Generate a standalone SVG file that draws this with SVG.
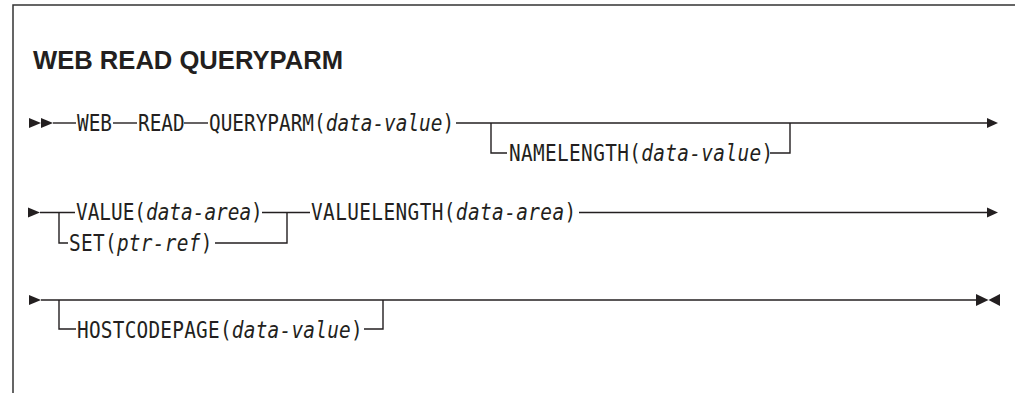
<svg xmlns="http://www.w3.org/2000/svg" width="1015" height="393" viewBox="0 0 1015 393">
  <style>
    .frame { fill: none; stroke: #333; stroke-width: 1.5; }
    .title { font-family: "Liberation Sans", Arial, sans-serif; font-weight: bold; font-size: 26px; fill: #231f20; }
    .kw { font-family: "DejaVu Sans Mono", "Liberation Mono", monospace; font-size: 19.4px; fill: #231f20; }
    .var { font-style: italic; }
    .wire { fill: none; stroke: #231f20; stroke-width: 1.4; }
    .head { fill: #231f20; }
  </style>

  <!-- page frame -->
  <path class="frame" d="M13,393 V5 H1015"/>

  <text class="title" x="33" y="69" textLength="310" lengthAdjust="spacingAndGlyphs">WEB READ QUERYPARM</text>

  <!-- rail connectors -->
  <g id="connectors">
    <!-- row 1 -->
    <polygon class="head" points="29,118 41,123 29,128"/>
    <polygon class="head" points="41,118 53,123 41,128"/>
    <path class="wire" d="M53,123 H76"/>
    <path class="wire" d="M113,123 H137"/>
    <path class="wire" d="M184,123 H208"/>
    <path class="wire" d="M456,123 H988"/>
    <path class="wire" d="M491,123 V153 H507"/>
    <path class="wire" d="M770,153 H790 V123"/>
    <polygon class="head" points="987,118 998,123 987,128"/>

    <!-- row 2 -->
    <polygon class="head" points="28,207.5 40,212.5 28,217.5"/>
    <path class="wire" d="M40,212.5 H75"/>
    <path class="wire" d="M59,212.5 V243 H68"/>
    <path class="wire" d="M262,212.5 H310"/>
    <path class="wire" d="M215,243 H287 V212.5"/>
    <path class="wire" d="M579,212.5 H988"/>
    <polygon class="head" points="987,207.5 998,212.5 987,217.5"/>

    <!-- row 3 -->
    <polygon class="head" points="29,295 41,300 29,305"/>
    <path class="wire" d="M41,300 H977"/>
    <path class="wire" d="M59,300 V329 H76"/>
    <path class="wire" d="M364,329 H383 V300"/>
    <polygon class="head" points="976,294 988.5,300 976,306"/>
    <polygon class="head" points="1000,294 988.5,300 1000,306"/>
  </g>

  <!-- keyword boxes: mono text stretched 1.15x upward from its baseline -->
  <!-- row 1 -->
  <g id="web"><text class="kw" x="77" y="131.5" transform="matrix(1 0 0 1.15 0 -19.725)">WEB</text></g>
  <g id="read"><text class="kw" x="138" y="131.5" transform="matrix(1 0 0 1.15 0 -19.725)">READ</text></g>
  <g id="queryparm"><text class="kw" x="209" y="131.5" transform="matrix(1 0 0 1.15 0 -19.725)">QUERYPARM(<tspan class="var">data-value</tspan>)</text></g>
  <g id="namelength"><text class="kw" x="509" y="161.5" letter-spacing="0.35" transform="matrix(1 0 0 1.15 0 -24.225)">NAMELENGTH(<tspan class="var">data-value</tspan>)</text></g>

  <!-- row 2 -->
  <g id="value"><text class="kw" x="76" y="220.5" transform="matrix(1 0 0 1.15 0 -33.075)">VALUE(<tspan class="var">data-area</tspan>)</text></g>
  <g id="set"><text class="kw" x="69" y="251" letter-spacing="0.3" transform="matrix(1 0 0 1.15 0 -37.65)">SET(<tspan class="var">ptr-ref</tspan>)</text></g>
  <g id="valuelength"><text class="kw" x="311" y="220.5" letter-spacing="0.4" transform="matrix(1 0 0 1.15 0 -33.075)">VALUELENGTH(<tspan class="var">data-area</tspan>)</text></g>

  <!-- row 3 -->
  <g id="hostcodepage"><text class="kw" x="77" y="338" letter-spacing="0.24" transform="matrix(1 0 0 1.15 0 -50.7)">HOSTCODEPAGE(<tspan class="var">data-value</tspan>)</text></g>
</svg>
